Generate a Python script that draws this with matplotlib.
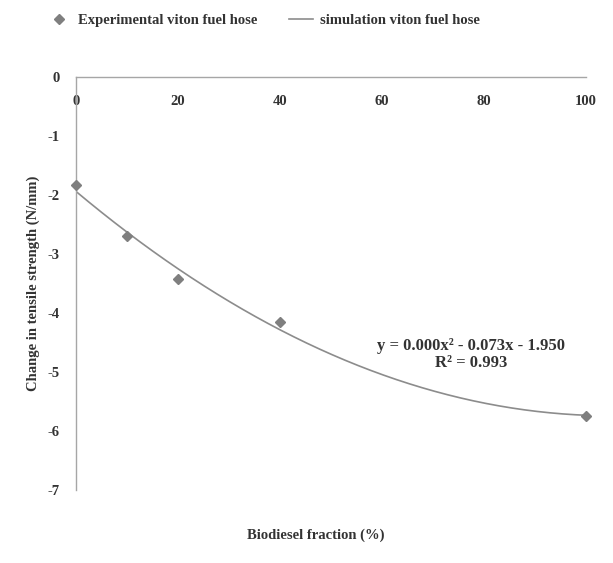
import numpy as np
import matplotlib
matplotlib.use("Agg")
import matplotlib.pyplot as plt

plt.rcParams['font.family'] = ['Liberation Serif', 'DejaVu Serif']
plt.rcParams['axes.unicode_minus'] = False

# dados
fracao = [0, 10, 20, 40, 100]
variacao = [-1.83, -2.69, -3.42, -4.15, -5.75]
xticks = [0, 20, 40, 60, 80, 100]
yticks = [0, -1, -2, -3, -4, -5, -6, -7]

# linha de tendência polinomial (2a ordem)
coef = np.polyfit(fracao, variacao, 2)
xs = np.linspace(0, 100, 200)
ys = np.polyval(coef, xs)

cor_txt = '#333333'
cor_eixo = '#a6a6a6'

fig = plt.figure(figsize=(6.13, 5.63), dpi=100)
ax = fig.add_axes([0.124, 0.130, 0.832, 0.733])

ax.plot(fracao, variacao, linestyle='none', marker='D', markersize=5.5,
        color='#7f7f7f', label='Experimental viton fuel hose', clip_on=False, zorder=3)
ax.plot(xs, ys, color='#8c8c8c', linewidth=1.2, label='simulation viton fuel hose')

ax.set_xlim(0, 100)
ax.set_ylim(-7, 0)
ax.set_xticks(xticks)
ax.set_yticks(yticks)

for s in ['right', 'bottom']:
    ax.spines[s].set_visible(False)
for s in ['left', 'top']:
    ax.spines[s].set_color(cor_eixo)
    ax.spines[s].set_linewidth(1.0)

ax.tick_params(axis='x', top=True, labeltop=True, bottom=False, labelbottom=False,
               length=0, pad=-22, labelsize=10.5, labelcolor=cor_txt)
ax.tick_params(axis='y', length=0, pad=12, labelsize=10.5, labelcolor=cor_txt)
for t in ax.get_xticklabels() + ax.get_yticklabels():
    t.set_fontweight('bold')

ax.text(0.775, 0.328, 'y = 0.000x² - 0.073x - 1.950\nR² = 0.993',
        transform=ax.transAxes, ha='center', va='center', fontsize=12,
        color=cor_txt, fontweight='bold', linespacing=1.1)

fig.text(0.054, 0.497, 'Change in tensile strength (N/mm)', rotation=90,
         ha='center', va='center', fontsize=10.5, fontweight='bold', color=cor_txt)
fig.text(0.515, 0.050, 'Biodiesel fraction (%)', ha='center', va='center',
         fontsize=10.5, fontweight='bold', color=cor_txt)

fig.legend(loc='center', bbox_to_anchor=(0.43, 0.963), ncol=2, frameon=False,
           handlelength=1.6, columnspacing=2.2, handletextpad=0.5,
           prop={'weight': 'bold', 'size': 10.5}, labelcolor=cor_txt)

fig.savefig('out.png', dpi=100)
